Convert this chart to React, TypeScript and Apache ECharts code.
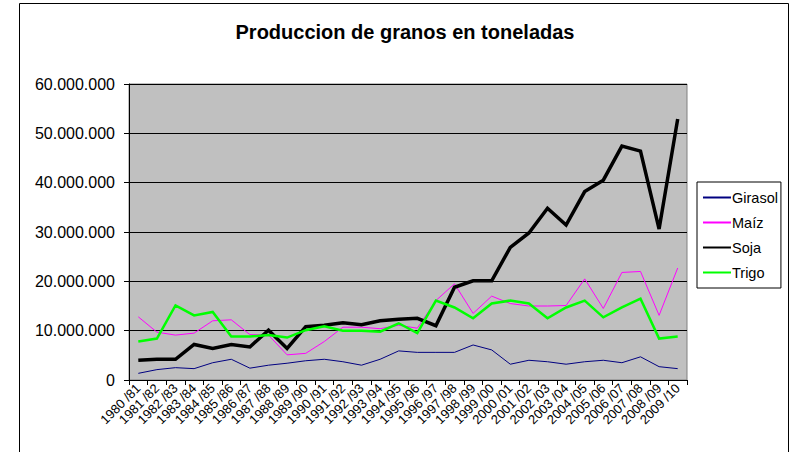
import React, { useEffect, useRef } from "react";
import * as echarts from "echarts";

const categories = [
  "1980 /81", "1981 /82", "1982 /83", "1983 /84", "1984 /85", "1985 /86",
  "1986 /87", "1987 /88", "1988 /89", "1989 /90", "1990 /91", "1991 /92",
  "1992 /93", "1993 /94", "1994 /95", "1995 /96", "1996 /97", "1997 /98",
  "1998 /99", "1999 /00", "2000 /01", "2001 /02", "2002 /03", "2003 /04",
  "2004 /05", "2005 /06", "2006 /07", "2007 /08", "2008 /09", "2009 /10",
];

const girasol = [
  1350000, 2100000, 2500000, 2300000, 3500000, 4200000, 2400000, 3000000, 3400000, 3900000,
  4200000, 3700000, 3000000, 4200000, 5900000, 5600000, 5600000, 5600000, 7100000, 6100000,
  3200000, 4000000, 3700000, 3200000, 3700000, 4000000, 3500000, 4700000, 2700000, 2300000,
];

const maiz = [
  12800000, 9700000, 9100000, 9500000, 12000000, 12200000, 9200000, 9100000, 5100000, 5400000,
  7800000, 10700000, 10700000, 10400000, 11100000, 10500000, 16100000, 19500000, 13500000, 17000000,
  15500000, 15000000, 15000000, 15100000, 20500000, 14500000, 21800000, 22000000, 13100000, 22700000,
];

const soja = [
  4000000, 4200000, 4200000, 7200000, 6400000, 7200000, 6700000, 10100000, 6400000, 10800000,
  11100000, 11600000, 11200000, 12000000, 12300000, 12500000, 11000000, 18800000, 20100000, 20100000,
  26900000, 29800000, 34800000, 31400000, 38200000, 40500000, 47400000, 46400000, 30600000, 52900000,
];

const trigo = [
  7800000, 8400000, 15100000, 13100000, 13800000, 8800000, 8800000, 9100000, 8600000, 10100000,
  10900000, 10000000, 10000000, 9800000, 11500000, 9500000, 16100000, 14700000, 12500000, 15500000,
  16100000, 15500000, 12500000, 14700000, 16100000, 12700000, 14700000, 16500000, 8400000, 8800000,
];

const FONT = "'Liberation Sans', Arial, sans-serif";

function fmt(v: number): string {
  return String(Math.round(v)).replace(/\B(?=(\d{3})+(?!\d))/g, ".");
}

export default function App() {
  const ref = useRef<HTMLDivElement>(null);
  useEffect(() => {
    if (!ref.current) return;
    const chart = echarts.init(ref.current, undefined, { renderer: "svg" });
    const mk = (name: string, data: number[], color: string, width: number) => ({
      name,
      type: "line",
      data,
      symbol: "none",
      showSymbol: false,
      lineStyle: { color, width, join: "miter" },
      itemStyle: { color },
      emphasis: { disabled: true },
    });
    chart.setOption({
      animation: false,
      backgroundColor: "#ffffff",
      title: {
        text: "Produccion de granos en toneladas",
        left: 405,
        textAlign: "center",
        top: 22,
        padding: 0,
        textStyle: { fontFamily: FONT, fontSize: 20, fontWeight: "bold", color: "#000" },
      },
      graphic: [
        {
          type: "rect",
          shape: { x: 19.5, y: 3.5, width: 769, height: 470 },
          style: { fill: "none", stroke: "#000", lineWidth: 1 },
          silent: true,
          z: -10,
        },
      ],
      legend: {
        orient: "vertical",
        left: 697,
        top: 182,
        padding: [8, 3, 8, 5],
        itemGap: 10,
        itemWidth: 28,
        itemHeight: 14,
        borderColor: "#000",
        borderWidth: 1,
        backgroundColor: "#fff",
        itemStyle: { opacity: 0 },
        textStyle: { fontFamily: FONT, fontSize: 14.5, color: "#000", padding: [0, 0, 0, -4] },
        data: ["Girasol", "Maíz", "Soja", "Trigo"],
      },
      grid: {
        left: 129,
        right: 110,
        top: 84,
        bottom: 72,
        show: true,
        backgroundColor: "#C0C0C0",
        borderColor: "#808080",
        borderWidth: 1,
      },
      xAxis: {
        type: "category",
        data: categories,
        boundaryGap: true,
        axisLine: { show: true, lineStyle: { color: "#000", width: 1 } },
        axisTick: { show: true, alignWithLabel: false, length: 5, inside: false, lineStyle: { color: "#000" } },
        axisLabel: {
          interval: 0,
          rotate: 45,
          margin: 6,
          fontFamily: FONT,
          fontSize: 13,
          color: "#000",
        },
        splitLine: { show: false },
      },
      yAxis: {
        type: "value",
        min: 0,
        max: 60000000,
        interval: 10000000,
        axisLine: { show: true, lineStyle: { color: "#000", width: 1 } },
        axisTick: { show: true, length: 5, lineStyle: { color: "#000" } },
        axisLabel: {
          fontFamily: FONT,
          fontSize: 16,
          color: "#000",
          margin: 14,
          formatter: (v: number) => fmt(v),
        },
        splitLine: { show: true, lineStyle: { color: "#000", width: 1 } },
      },
      series: [
        mk("Girasol", girasol, "#000080", 1),
        mk("Maíz", maiz, "#FF00FF", 1),
        mk("Soja", soja, "#000000", 3.5),
        mk("Trigo", trigo, "#00FF00", 2.5),
      ],
    });
    return () => chart.dispose();
  }, []);
  return (
    <div
      ref={ref}
      style={{ position: "fixed", left: 0, top: 0, width: 797, height: 452 }}
    />
  );
}
